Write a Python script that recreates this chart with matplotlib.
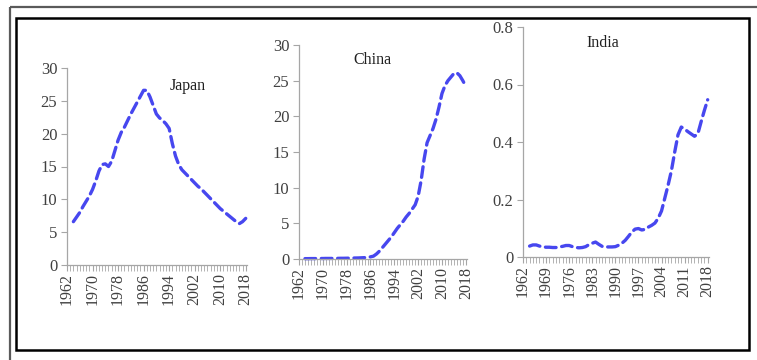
import matplotlib
matplotlib.use("Agg")
import matplotlib.pyplot as plt
from matplotlib.patches import Rectangle
from matplotlib.ticker import FixedLocator

years = list(range(1964, 2019))

japan = [6.6, 7.3, 8.0, 8.9, 9.7, 10.5, 11.5, 12.8, 14.3, 15.3,
         15.4, 15.0, 15.8, 17.4, 19.0, 20.2, 21.0, 22.0, 23.0, 23.9,
         24.8, 25.7, 26.6, 26.6, 25.6, 24.3, 23.0, 22.4, 22.0, 21.5,
         20.8, 18.5, 16.6, 15.3, 14.5, 14.0, 13.5, 13.0, 12.5, 12.0,
         11.6, 11.1, 10.6, 10.1, 9.6, 9.1, 8.6, 8.2, 7.8, 7.4,
         7.0, 6.6, 6.3, 6.6, 7.1]

china = [0.05, 0.05, 0.06, 0.06, 0.06, 0.07, 0.07, 0.08, 0.08, 0.08,
         0.09, 0.09, 0.10, 0.10, 0.11, 0.12, 0.13, 0.14, 0.15, 0.17,
         0.19, 0.22, 0.30, 0.40, 0.70, 1.1, 1.6, 2.1, 2.6, 3.1,
         3.7, 4.3, 4.8, 5.3, 5.9, 6.4, 7.0, 7.6, 8.8, 11.0,
         14.0, 16.3, 17.3, 18.3, 19.6, 21.3, 23.2, 24.3, 25.0, 25.5,
         26.0, 26.1, 25.7, 25.0, 24.2]

india = [0.038, 0.042, 0.042, 0.038, 0.035, 0.034, 0.034, 0.033, 0.033, 0.035,
         0.037, 0.040, 0.040, 0.036, 0.033, 0.032, 0.033, 0.036, 0.043, 0.048,
         0.052, 0.044, 0.037, 0.035, 0.035, 0.035, 0.036, 0.041, 0.048, 0.058,
         0.072, 0.087, 0.097, 0.099, 0.094, 0.096, 0.104, 0.110, 0.118, 0.135,
         0.160, 0.205, 0.250, 0.300, 0.365, 0.425, 0.452, 0.445, 0.436, 0.428,
         0.420, 0.428, 0.470, 0.510, 0.547]

japan_xticks = [1962, 1970, 1978, 1986, 1994, 2002, 2010, 2018]
china_xticks = [1962, 1970, 1978, 1986, 1994, 2002, 2010, 2018]
india_xticks = [1962, 1969, 1976, 1983, 1990, 1997, 2004, 2011, 2018]

japan_yticks = [0, 5, 10, 15, 20, 25, 30]
china_yticks = [0, 5, 10, 15, 20, 25, 30]
india_yticks = [0, 0.2, 0.4, 0.6, 0.8]
japan_ylabels = ["0", "5", "10", "15", "20", "25", "30"]
china_ylabels = ["0", "5", "10", "15", "20", "25", "30"]
india_ylabels = ["0", "0.2", "0.4", "0.6", "0.8"]

W, H = 757, 360
fig = plt.figure(figsize=(W / 100, H / 100), dpi=100)
fig.patch.set_facecolor("white")

FONT = "Liberation Serif"
LINE_COLOR = "#4747ef"
AX_COLOR = "#a6a6a6"
TXT_COLOR = "#404040"

def px_axes(l, r, t, b):
    return [l / W, (H - b) / H, (r - l) / W, (b - t) / H]

panels = [
    (px_axes(67, 247, 68, 265), japan, japan_yticks, japan_ylabels, japan_xticks, "Japan", (0.67, 0.91)),
    (px_axes(299, 467, 45, 259), china, china_yticks, china_ylabels, china_xticks, "China", (0.44, 0.93)),
    (px_axes(523, 709, 27, 257), india, india_yticks, india_ylabels, india_xticks, "India", (0.43, 0.93)),
]

for rect, vals, yt, yl, xt, title, tpos in panels:
    ax = fig.add_axes(rect)
    ax.plot(years, vals, color=LINE_COLOR, lw=2.4, linestyle=(0, (3.2, 1.7)),
            dash_capstyle="round", solid_capstyle="round", clip_on=False)
    ax.set_xlim(1962, 2018.4)
    ax.set_ylim(yt[0], yt[-1])
    for s in ["top", "right"]:
        ax.spines[s].set_visible(False)
    for s in ["left", "bottom"]:
        ax.spines[s].set_color(AX_COLOR)
        ax.spines[s].set_linewidth(0.9)
    ax.set_yticks(yt)
    ax.set_yticklabels(yl, fontfamily=FONT, fontsize=12, color=TXT_COLOR)
    ax.set_xticks(xt)
    ax.set_xticklabels([str(v) for v in xt], rotation=90, fontfamily=FONT,
                       fontsize=11.5, color=TXT_COLOR)
    ax.xaxis.set_minor_locator(FixedLocator(list(range(1962, 2019))))
    ax.tick_params(axis="y", which="major", length=4, width=0.8, color=AX_COLOR, pad=3)
    ax.tick_params(axis="x", which="major", length=4, width=0.8, color=AX_COLOR, pad=2)
    ax.tick_params(axis="x", which="minor", length=4, width=0.6, color=AX_COLOR)
    ax.set_facecolor("none")
    ax.text(tpos[0], tpos[1], title, transform=ax.transAxes, fontfamily=FONT,
            fontsize=11.5, color="#202020", ha="center", va="center")

# frames
ov = fig.add_axes([0, 0, 1, 1], zorder=-1)
ov.set_xlim(0, W)
ov.set_ylim(H, 0)
ov.axis("off")
ov.add_patch(Rectangle((10, 7), W + 20, H + 20, fill=False, edgecolor="#5a5a5a", lw=1.6))
ov.add_patch(Rectangle((16, 18), 733, 332, fill=False, edgecolor="black", lw=1.8))

fig.savefig("out.png", dpi=100)
